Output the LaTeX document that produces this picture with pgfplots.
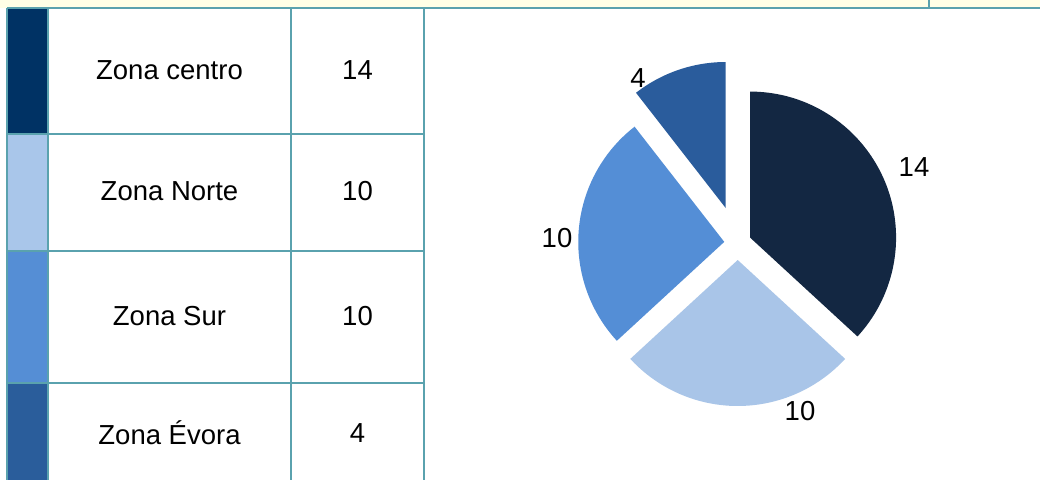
\documentclass[border=0pt]{standalone}
\usepackage{pgfplots}
\pgfplotsset{compat=1.18}
\usepackage{pgfplotstable}
\usepackage{fontspec}
\setmainfont{Liberation Sans}
\definecolor{gridc}{RGB}{90,162,174}
\definecolor{topy}{RGB}{255,255,230}
\definecolor{swA}{RGB}{0,50,100}
\definecolor{swB}{RGB}{169,198,234}
\definecolor{swC}{RGB}{85,142,213}
\definecolor{swD}{RGB}{42,93,155}
\definecolor{pA}{RGB}{19,39,66}
\definecolor{pB}{RGB}{169,197,232}
\definecolor{pC}{RGB}{84,142,214}
\definecolor{pD}{RGB}{42,92,156}
\newcommand\labfont{\fontsize{27.5}{32}\selectfont}
\tikzset{lab/.style={font=\labfont, inner sep=0pt}, gl/.style={gridc, line width=1.1pt}}
\pgfplotstableread{
zone value explode
centro 14 13.5
Norte 10 17
Sur 10 13.5
Evora 4 37
}\piedata
\begin{document}
\begin{tikzpicture}
\pgfplotstablegetelem{0}{value}\of\piedata \edef\vA{\pgfplotsretval}
\pgfplotstablegetelem{1}{value}\of\piedata \edef\vB{\pgfplotsretval}
\pgfplotstablegetelem{2}{value}\of\piedata \edef\vC{\pgfplotsretval}
\pgfplotstablegetelem{3}{value}\of\piedata \edef\vD{\pgfplotsretval}
\pgfplotstablegetelem{0}{explode}\of\piedata \edef\dA{\pgfplotsretval}
\pgfplotstablegetelem{1}{explode}\of\piedata \edef\dB{\pgfplotsretval}
\pgfplotstablegetelem{2}{explode}\of\piedata \edef\dC{\pgfplotsretval}
\pgfplotstablegetelem{3}{explode}\of\piedata \edef\dD{\pgfplotsretval}
\pgfmathsetmacro\tot{\vA+\vB+\vC+\vD}
\pgfmathsetmacro\aA{90}
\pgfmathsetmacro\aB{\aA-360*\vA/\tot}
\pgfmathsetmacro\aC{\aB-360*\vB/\tot}
\pgfmathsetmacro\aD{\aC-360*\vC/\tot}
\pgfmathsetmacro\aE{\aD-360*\vD/\tot}
\def\cx{737.7}\def\cy{243}\def\R{146}
\pgfmathsetmacro\pAx{\cx+\dA*cos((\aA+\aB)/2)}\pgfmathsetmacro\pAy{\cy-\dA*sin((\aA+\aB)/2)}
\pgfmathsetmacro\pBx{\cx+\dB*cos((\aB+\aC)/2)}\pgfmathsetmacro\pBy{\cy-\dB*sin((\aB+\aC)/2)}
\pgfmathsetmacro\pCx{\cx+\dC*cos((\aC+\aD)/2)}\pgfmathsetmacro\pCy{\cy-\dC*sin((\aC+\aD)/2)}
\pgfmathsetmacro\pDx{\cx+\dD*cos((\aD+\aE)/2)}\pgfmathsetmacro\pDy{\cy-\dD*sin((\aD+\aE)/2)}
\begin{axis}[at={(0,0)}, anchor=south west, scale only axis,
  width=1040pt, height=480pt, xmin=0, xmax=1040, ymin=0, ymax=480,
  y dir=reverse, hide axis, clip=true]
\fill[white] (axis cs:0,0) rectangle (axis cs:1040,480);
% top strip
\fill[topy] (axis cs:0,0) rectangle (axis cs:1040,8);
\draw[gl] (axis cs:929,0) -- (axis cs:929,8);
% swatches
\fill[swA] (axis cs:7,8) rectangle (axis cs:48,134);
\fill[swB] (axis cs:7,134) rectangle (axis cs:48,251);
\fill[swC] (axis cs:7,251) rectangle (axis cs:48,383);
\fill[swD] (axis cs:7,383) rectangle (axis cs:48,480);
% grid lines
\draw[gl] (axis cs:7,8) -- (axis cs:1040,8);
\draw[gl] (axis cs:7,134) -- (axis cs:424,134);
\draw[gl] (axis cs:7,251) -- (axis cs:424,251);
\draw[gl] (axis cs:7,383) -- (axis cs:424,383);
\draw[gl] (axis cs:7,8) -- (axis cs:7,480);
\draw[gl] (axis cs:48,8) -- (axis cs:48,480);
\draw[gl] (axis cs:291,8) -- (axis cs:291,480);
\draw[gl] (axis cs:424,8) -- (axis cs:424,480);
% table text
\node[lab] at (axis cs:169.5,70) {Zona centro};
\node[lab] at (axis cs:169.5,191) {Zona Norte};
\node[lab] at (axis cs:169.5,316) {Zona Sur};
\node[lab] at (axis cs:169.5,433) {Zona Évora};
\node[lab] at (axis cs:357.5,70) {\vA};
\node[lab] at (axis cs:357.5,191) {\vB};
\node[lab] at (axis cs:357.5,316) {\vC};
\node[lab] at (axis cs:357.5,433) {\vD};
% pie labels
\node[lab] at (axis cs:914,167) {\vA};
\node[lab] at (axis cs:800,411) {\vB};
\node[lab] at (axis cs:557,238) {\vC};
\node[lab] at (axis cs:638,78) {\vD};
% pie slices
\fill[pA] (axis cs:\pAx,\pAy) -- ++(\aA:\R pt) arc[start angle=\aA, end angle=\aB, radius=\R pt] -- cycle;
\fill[pB] (axis cs:\pBx,\pBy) -- ++(\aB:\R pt) arc[start angle=\aB, end angle=\aC, radius=\R pt] -- cycle;
\fill[pC] (axis cs:\pCx,\pCy) -- ++(\aC:\R pt) arc[start angle=\aC, end angle=\aD, radius=\R pt] -- cycle;
\fill[pD] (axis cs:\pDx,\pDy) -- ++(\aD:\R pt) arc[start angle=\aD, end angle=\aE, radius=\R pt] -- cycle;
\end{axis}
\end{tikzpicture}
\end{document}
